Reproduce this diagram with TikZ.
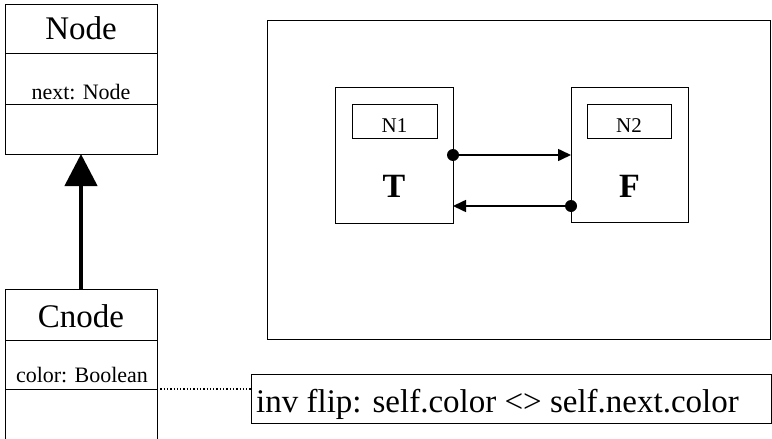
\documentclass[tikz,border=0pt]{standalone}
\usepackage{fontspec}
\setmainfont{Liberation Serif}
\usetikzlibrary{arrows.meta}
\begin{document}
\begin{tikzpicture}[x=1pt,y=-1pt,
  thin box/.style={draw, line width=1pt, rectangle, inner sep=0pt, outer sep=0pt},
  frame/.style={rectangle, inner sep=0pt, outer sep=0pt},
  big/.style={font=\fontsize{33}{33}\selectfont, anchor=base, inner sep=0pt},
  small/.style={font=\fontsize{22}{22}\selectfont, anchor=base, inner sep=0pt},
  label/.style={font=\fontsize{21}{21}\selectfont, anchor=base, inner sep=0pt},
  letter/.style={font=\fontsize{34}{34}\selectfont\bfseries, anchor=base, inner sep=0pt},
  link/.style={line width=1.6pt, -{Triangle[length=13pt,width=12pt]}},
  dot/.style={circle, fill, inner sep=0pt, minimum size=12pt}
]
\useasboundingbox (0,0) rectangle (772,439);

% Node class
\node[thin box, minimum width=152pt, minimum height=150pt] (nodebox) at (81,79) {};
\draw[line width=1pt] (nodebox.west |- 0,53) -- (nodebox.east |- 0,53);
\draw[line width=1pt] (nodebox.west |- 0,104) -- (nodebox.east |- 0,104);
\node[big] (nodename) at (81,39) {Node};
\node[small] (nodeattr) at (81,99) {next: Node};

% Cnode class (open at the bottom)
\node[frame, minimum width=152pt, minimum height=152pt] (cnodebox) at (81,365) {};
\draw[line width=1pt] (cnodebox.south west) -- (cnodebox.north west) -- (cnodebox.north east) -- (cnodebox.south east);
\draw[line width=1pt] (cnodebox.west |- 0,340) -- (cnodebox.east |- 0,340);
\draw[line width=1pt] (cnodebox.west |- 0,389) -- (cnodebox.east |- 0,389);
\node[big] (cnodename) at (81,327) {Cnode};
\node[small] (cnodeattr) at (82,382) {color: Boolean};

% inheritance
\draw[line width=4.5pt, -{Triangle[length=32pt,width=32pt]}] (cnodebox.north) -- (nodebox.south);

% constraint
\node[thin box, minimum width=520pt, minimum height=49pt] (constraint) at (511,398.5) {};
\node[font=\fontsize{33}{33}\selectfont, anchor=base west, inner sep=0pt] (ctext) at (256,412) {inv flip: self.color <> self.next.color};
\coordinate (sepR) at (157,389);
\draw[dotted, line width=1.3pt] (sepR) -- (constraint.west |- sepR);

% object diagram frame
\node[thin box, minimum width=503pt, minimum height=319pt] (objframe) at (519,179.5) {};

% object T
\node[thin box, minimum width=118pt, minimum height=136pt] (tbox) at (394,155) {};
\node[thin box, minimum width=85pt, minimum height=34pt] (n1) at (394.5,121) {};
\node[label] (n1text) at (394.5,132) {N1};
\node[letter] (tval) at (394,197) {T};

% object F
\node[thin box, minimum width=117pt, minimum height=135pt] (fbox) at (629.5,154.5) {};
\node[thin box, minimum width=84pt, minimum height=34pt] (n2) at (629,121) {};
\node[label] (n2text) at (629,132) {N2};
\node[letter] (fval) at (629.5,197) {F};

% links
\coordinate (tA) at (tbox.east |- 0,155);
\coordinate (fA) at (fbox.west |- 0,155);
\coordinate (fB) at (fbox.west |- 0,206);
\coordinate (tB) at (tbox.east |- 0,206);
\draw[link] (tA) -- (fA);
\draw[link] (fB) -- (tB);
\node[dot] (dotA) at (tA) {};
\node[dot] (dotB) at (fB) {};
\end{tikzpicture}
\end{document}
